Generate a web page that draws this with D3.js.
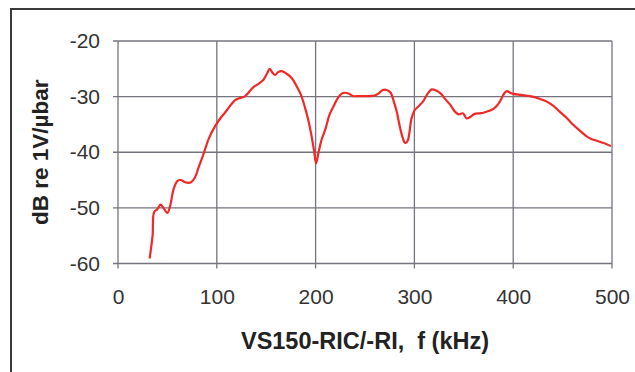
<!DOCTYPE html>
<html><head><meta charset="utf-8">
<script src="https://cdn.jsdelivr.net/npm/d3@7"></script>
<style>html,body{margin:0;padding:0;background:#fff;}svg{display:block;}</style>
</head><body>
<svg id="c" width="635" height="372"></svg>
<script>
const freqKHz = [32,35,36.5,40,43,46,50,53,56,60,64,68,74,78,82,86,92,98,104,110,118,124,128,132,137,143,147,151,153.5,156,159,162,165.5,170,176,181,185,189,193,196,198.5,200.5,203,206,210,214,218,222,226,230,234,238,245,252,260,264,268,272,276,279,282,285,288,290.5,293,295,297,300,305,309,313,317.5,322,327,331,336,341,345,349,353,356,361,366,370,375,380,385,388,391,393.5,397,400,408,417,425,434,441,447,454,461,468,474,479,484,489,494,499];
const levelDb = [-59.1,-55,-50.8,-50.2,-49.4,-50.0,-50.9,-49.5,-46.8,-45.2,-45.0,-45.4,-45.4,-44.5,-42.5,-40.6,-37.5,-35.4,-33.8,-32.5,-30.7,-30.2,-30.0,-29.3,-28.3,-27.6,-27.0,-25.8,-25.0,-25.6,-26.1,-25.6,-25.4,-25.8,-26.7,-28.2,-29.6,-31.8,-34.5,-37.2,-39.8,-42.0,-40.0,-37.8,-35.8,-33.3,-31.8,-30.4,-29.5,-29.3,-29.5,-29.9,-29.9,-29.9,-29.8,-29.4,-28.8,-28.8,-29.3,-30.8,-32.6,-35.2,-37.3,-38.3,-38.0,-36.4,-34.0,-32.5,-31.6,-30.8,-29.6,-28.7,-28.9,-29.5,-30.4,-31.4,-32.7,-33.2,-33.0,-33.9,-33.7,-33.1,-33.0,-32.9,-32.6,-32.2,-31.3,-30.4,-29.4,-29.0,-29.3,-29.5,-29.7,-29.9,-30.3,-30.9,-31.7,-32.7,-33.8,-35.1,-36.2,-37.1,-37.6,-37.9,-38.2,-38.5,-38.9];
const xTicks = [0,100,200,300,400,500];
const yTicks = [-20,-30,-40,-50,-60];
const xTitle = "VS150-RIC/-RI,  f (kHz)";
const yTitle = "dB re 1V/µbar";

const svg = d3.select("#c");
const L = 118, R = 612, T = 41, B = 263.5;
const x = d3.scaleLinear().domain([0,500]).range([L,R]);
const y = d3.scaleLinear().domain([-60,-20]).range([B,T]);
const gridColor = "#74747f";
const font = "'Liberation Sans', Arial, sans-serif";

// outer frame (cut at right/bottom)
svg.append("path").attr("d", `M11,372 V9 H635`).attr("fill","none").attr("stroke","#3a3a3a").attr("stroke-width",2);

// grid
const g = svg.append("g");
g.selectAll(".vx").data(xTicks).join("line")
  .attr("x1", d=>x(d)).attr("x2", d=>x(d)).attr("y1", T).attr("y2", B+5)
  .attr("stroke", gridColor).attr("stroke-width",1.3);
g.selectAll(".hy").data(yTicks).join("line")
  .attr("x1", L-5).attr("x2", R).attr("y1", d=>y(d)).attr("y2", d=>y(d))
  .attr("stroke", gridColor).attr("stroke-width",1.3);

// tick labels via axes
const fmt = d => String(d);
const ax = d3.axisBottom(x).tickValues(xTicks).tickSize(0).tickPadding(0).tickFormat(fmt);
const xg = svg.append("g").attr("transform",`translate(0,${B+26})`).call(ax);
xg.select(".domain").remove();
xg.selectAll("text").attr("font-family",font).attr("font-size",21).attr("fill","#333").attr("dy","0.71em");

const ay = d3.axisLeft(y).tickValues(yTicks).tickSize(0).tickPadding(0).tickFormat(fmt);
const yg = svg.append("g").attr("transform",`translate(${L-18},0)`).call(ay);
yg.select(".domain").remove();
yg.selectAll("text").attr("font-family",font).attr("font-size",21).attr("fill","#333");

// titles
svg.append("text").attr("x",(L+R)/2).attr("y",349).attr("text-anchor","middle")
  .style("white-space","pre")
  .attr("font-family",font).attr("font-weight","bold").attr("font-size",23.5).attr("fill","#222").text(xTitle);
svg.append("text").attr("transform",`translate(48,${(T+B)/2}) rotate(-90)`).attr("text-anchor","middle")
  .attr("font-family",font).attr("font-weight","bold").attr("font-size",22.5).attr("fill","#222").text(yTitle);

// curve
const data = freqKHz.map((f,i)=>[f, levelDb[i]]);
svg.append("path").datum(data)
  .attr("d", d3.line().x(d=>x(d[0])).y(d=>y(d[1])).curve(d3.curveCatmullRom.alpha(0.5)))
  .attr("fill","none").attr("stroke","#f02828").attr("stroke-width",2.2).attr("stroke-linejoin","round");
</script>
</body></html>
